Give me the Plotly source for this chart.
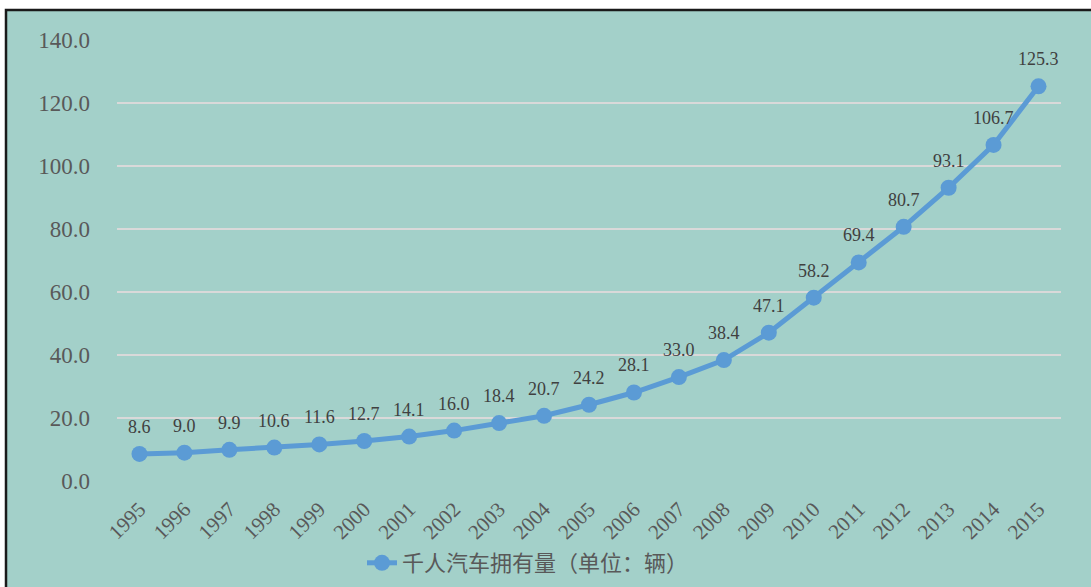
import plotly.graph_objects as go

years = list(range(1995, 2016))
values = [8.6, 9.0, 9.9, 10.6, 11.6, 12.7, 14.1, 16.0, 18.4, 20.7, 24.2, 28.1,
          33.0, 38.4, 47.1, 58.2, 69.4, 80.7, 93.1, 106.7, 125.3]
series_name = "千人汽车拥有量（单位：辆）"
y_ticks = [0, 20, 40, 60, 80, 100, 120, 140]
y_tick_labels = ["0.0", "20.0", "40.0", "60.0", "80.0", "100.0", "120.0", "140.0"]

W, H = 1091, 587
L, R, T, B = 117, 30, 40, 106
pw, ph = W - L - R, H - T - B

BG = "#A3D0C9"
LINE = "#5B9BD5"
serif = "Liberation Serif, Times New Roman, serif"
cjk = "Noto Sans CJK SC, sans-serif"

fig = go.Figure()
fig.add_trace(go.Scatter(
    x=years, y=values, mode="lines+markers", name=series_name,
    line=dict(color=LINE, width=5),
    marker=dict(color=LINE, size=16),
    cliponaxis=False,
))

for x, v in zip(years, values):
    fig.add_annotation(x=x, y=v, xref="x", yref="y", text=f"{v:.1f}",
                       showarrow=False, yshift=27, yanchor="middle",
                       xanchor="center",
                       font=dict(family=serif, size=18, color="#404040"))

# border / background rectangle
fig.add_shape(type="rect", xref="paper", yref="paper", layer="below",
              x0=(6 - L) / pw, x1=(W + 10 - L) / pw,
              y0=(H - B - (H + 10)) / ph, y1=(H - B - 10) / ph,
              fillcolor=BG, line=dict(color="#1a1a1a", width=2.5))

fig.update_layout(
    width=W, height=H,
    margin=dict(l=L, r=R, t=T, b=B, pad=0, autoexpand=False),
    paper_bgcolor="white", plot_bgcolor=BG,
    showlegend=True,
    legend=dict(orientation="h", x=(362 - L) / pw, xanchor="left",
                yref="container", y=1 - 563 / H, yanchor="middle",
                font=dict(family=cjk, size=22, color="#595959"),
                bgcolor="rgba(0,0,0,0)"),
    xaxis=dict(range=[1994.5, 2015.5], tickvals=years,
               ticktext=[str(y) for y in years], showgrid=False,
               showline=False, zeroline=False, tickangle=-45,
               tickfont=dict(family=serif, size=21, color="#595959"),
               ticks="", ticklabelstandoff=11, automargin=False),
    yaxis=dict(range=[0, 140], tickvals=y_ticks, ticktext=y_tick_labels,
               showgrid=True, gridcolor="#D9D9D9", gridwidth=2,
               zeroline=False, showline=False, ticks="",
               tickfont=dict(family=serif, size=23, color="#595959"),
               ticklabelstandoff=26, automargin=False),
)

fig.write_html("out.html")
